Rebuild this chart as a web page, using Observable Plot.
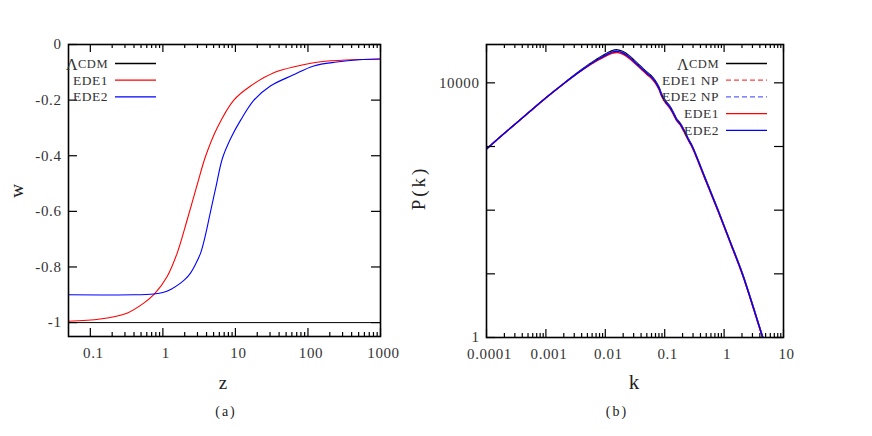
<!DOCTYPE html>
<html><head><meta charset="utf-8">
<script src="https://cdn.jsdelivr.net/npm/d3@7"></script>
<script src="https://cdn.jsdelivr.net/npm/@observablehq/plot@0.6"></script>
<style>
body{margin:0;background:#fff;}
#wrap{position:relative;width:872px;height:436px;display:flex;}
svg{display:block;}
g[aria-label$="tick label"] text{letter-spacing:0.6px;}
</style></head><body><div id="wrap"></div>
<script>
// ---------- Panel (a): equation of state w(z) ----------
const zLCDM = [0.05, 1000];
const wLCDM = [-1, -1];
const zEDE1 = [0.05, 0.137, 0.32, 0.545, 0.766, 1.146, 1.57, 2.16, 3.0, 3.9, 5.6, 9.5, 16, 35, 70, 150, 400, 1000];
const wEDE1 = [-0.995, -0.987, -0.966, -0.93, -0.897, -0.834, -0.751, -0.631, -0.5, -0.4, -0.3, -0.2, -0.15, -0.1, -0.078, -0.062, -0.055, -0.052];
const zEDE2 = [0.05, 0.4, 0.75, 1.0, 1.3, 1.75, 2.05, 2.4, 2.82, 3.31, 3.88, 4.46, 5.41, 6.61, 8.59, 11.8, 18, 30, 62, 120, 250, 500, 1000];
const wEDE2 = [-0.9, -0.9, -0.897, -0.892, -0.88, -0.858, -0.843, -0.822, -0.79, -0.75, -0.683, -0.61, -0.51, -0.41, -0.338, -0.272, -0.2, -0.15, -0.11, -0.077, -0.063, -0.055, -0.052];
const zMajor = [0.1, 1, 10, 100, 1000];
const wMajor = [-1, -0.8, -0.6, -0.4, -0.2, 0];

// ---------- Panel (b): power spectrum P(k) ----------
const kVals = [0.0001, 0.0002, 0.0005, 0.001, 0.002, 0.004, 0.007, 0.01, 0.013, 0.016, 0.02, 0.025, 0.031, 0.0395, 0.05, 0.0583, 0.0676, 0.0794, 0.0912, 0.107, 0.12, 0.138, 0.158, 0.182, 0.209, 0.251, 0.294, 0.484, 0.796, 1.28, 2.05, 4.52, 5.0];
const pLCDM  = [916, 1610, 3350, 5820, 9790, 16140, 23170, 28310, 31990, 33040, 30900, 26920, 22390, 18200, 14790, 13180, 11220, 8710, 6310, 5010, 4420, 3550, 2750, 2340, 1860, 1320, 1000, 316, 100, 31.6, 10, 1.0, 0.76];
const pEDE1NP = [916, 1610, 3347, 5805, 9720, 15700, 22000, 26400, 29500, 30400, 28400, 24900, 20800, 16900, 13750, 12250, 10450, 8120, 5900, 4690, 4140, 3330, 2590, 2200, 1760, 1250, 950, 301, 95.5, 30.2, 9.55, 0.955, 0.73];
const pEDE2NP = [916, 1610, 3349, 5815, 9770, 15990, 22750, 27500, 30950, 31950, 29900, 26100, 21750, 17700, 14400, 12850, 10950, 8500, 6180, 4910, 4330, 3480, 2700, 2300, 1830, 1300, 985, 312, 98.8, 31.2, 9.85, 0.985, 0.75];
const pEDE1  = [916, 1610, 3345, 5800, 9700, 15600, 21800, 26100, 29100, 29900, 27900, 24400, 20400, 16600, 13500, 12050, 10300, 8000, 5820, 4630, 4090, 3290, 2560, 2180, 1740, 1240, 940, 298, 94.5, 29.9, 9.45, 0.945, 0.72];
const pEDE2  = [916, 1610, 3348, 5810, 9740, 15850, 22400, 27000, 30300, 31200, 29200, 25500, 21300, 17300, 14100, 12560, 10720, 8330, 6050, 4810, 4240, 3410, 2650, 2260, 1800, 1280, 970, 307, 97.2, 30.7, 9.7, 0.97, 0.74];
const kMajor = [0.0001, 0.001, 0.01, 0.1, 1, 10];
const pMajor = [1, 10, 100, 1000, 10000];
const pLabels = [1, 10000];

// typewriter-like look: thin serif with mono-like spacing
const FONT = "'Liberation Serif', 'DejaVu Serif', serif";
const TICKFS = 15;
const toRows = (xs, ys) => xs.map((x, i) => ({x, y: ys[i]}));
const minorsOf = (majors) => majors.slice(0, -1).flatMap(d => [2,3,4,5,6,7,8,9].map(m => d * m));

function ticksMarks(fw, fh, xMaj, xMin, yMaj) {
  const s = {stroke: "black", strokeWidth: 1.2};
  return [
    Plot.tickX(xMaj, {x: d => d, insetTop: fh - 8, ...s}),
    Plot.tickX(xMaj, {x: d => d, insetBottom: fh - 8, ...s}),
    Plot.tickX(xMin, {x: d => d, insetTop: fh - 4, ...s}),
    Plot.tickX(xMin, {x: d => d, insetBottom: fh - 4, ...s}),
    Plot.tickY(yMaj, {y: d => d, insetRight: fw - 9, ...s}),
    Plot.tickY(yMaj, {y: d => d, insetLeft: fw - 9, ...s})
  ];
}

function addText(svg, x, y, txt, size, rotate, ls) {
  return d3.select(svg).append("text")
    .attr("transform", `translate(${x},${y})` + (rotate ? " rotate(-90)" : ""))
    .attr("text-anchor", "middle").attr("dominant-baseline", "central")
    .attr("font-family", FONT).attr("letter-spacing", ls || "0px").attr("font-size", size).attr("fill", "#222")
    .text(txt);
}

function addLegend(svg, items, xEnd, x1, x2, y0, dy) {
  const g = d3.select(svg).append("g").attr("font-family", FONT).attr("letter-spacing", "0.5px").attr("font-size", 13.5);
  items.forEach((it, i) => {
    const y = y0 + i * dy;
    const t = g.append("text").attr("x", xEnd).attr("y", y).attr("text-anchor", "end")
      .attr("dominant-baseline", "central").attr("fill", "#333");
    if (it.label.startsWith("Λ")) {
      t.append("tspan").attr("font-size", 16).text("Λ");
      t.append("tspan").attr("font-size", 12.5).text(it.label.slice(1));
    } else t.text(it.label);
    g.append("line").attr("x1", x1).attr("x2", x2).attr("y1", y).attr("y2", y)
      .attr("stroke", it.color).attr("stroke-width", 1.3)
      .attr("stroke-dasharray", it.dash || null);
  });
}

const wrap = document.getElementById("wrap");
const baseStyle = {fontFamily: FONT, fontSize: TICKFS + "px", background: "white", color: "black"};

// ----- Left panel -----
const W1 = 400, H = 436, mL1 = 68, mR1 = 20, mT = 44, mB1 = 100;
const fw1 = W1 - mL1 - mR1, fh1 = H - mT - mB1;
const left = Plot.plot({
  width: W1, height: H, marginLeft: mL1, marginRight: mR1, marginTop: mT, marginBottom: mB1,
  style: baseStyle,
  x: {type: "log", domain: [0.05, 1000], label: null},
  y: {domain: [-1.05, 0], label: null},
  marks: [
    Plot.line(toRows(zLCDM, wLCDM), {x: "x", y: "y", stroke: "black", strokeWidth: 1}),
    Plot.line(toRows(zEDE1, wEDE1), {x: "x", y: "y", stroke: "#ff0000", strokeWidth: 1.1, curve: "catmull-rom"}),
    Plot.line(toRows(zEDE2, wEDE2), {x: "x", y: "y", stroke: "#0000ff", strokeWidth: 1.1, curve: "catmull-rom"}),
    ...ticksMarks(fw1, fh1, zMajor, minorsOf(zMajor), wMajor),
    Plot.frame({stroke: "black", strokeWidth: 1.6}),
    Plot.axisX({ticks: zMajor, tickSize: 0, tickPadding: 11, dx: 3, fontSize: TICKFS, fill: "#333", tickFormat: d => String(d), label: null}),
    Plot.axisY({ticks: wMajor, tickSize: 0, tickPadding: 7, fontSize: TICKFS, fill: "#333", tickFormat: d => String(d), label: null})
  ]
});
addText(left, 16, 191, "w", 19, true);
addText(left, 223, 382, "z", 19, false);
addText(left, 226, 411, "(a)", 14, false, "2px");
addLegend(left, [
  {label: "ΛCDM", color: "black"},
  {label: "EDE1", color: "#ff0000"},
  {label: "EDE2", color: "#0000ff"}
], 108, 115, 156, 63.5, 16.7);
wrap.appendChild(left);

// ----- Right panel -----
const W2 = 472, mL2 = 86, mR2 = 89, mB2 = 99;
const fw2 = W2 - mL2 - mR2, fh2 = H - mT - mB2;
const series = [
  {p: pLCDM, color: "black", dash: null},
  {p: pEDE1NP, color: "#ff4040", dash: "5,3"},
  {p: pEDE2NP, color: "#6060ff", dash: "5,3"},
  {p: pEDE1, color: "#ff0000", dash: null},
  {p: pEDE2, color: "#0000ff", dash: null}
];
const right = Plot.plot({
  width: W2, height: H, marginLeft: mL2, marginRight: mR2, marginTop: mT, marginBottom: mB2,
  style: baseStyle,
  x: {type: "log", domain: [0.0001, 10], label: null},
  y: {type: "log", domain: [1, 40000], label: null},
  marks: [
    ...series.map(s => Plot.line(toRows(kVals, s.p), {x: "x", y: "y", stroke: s.color, strokeWidth: 1.3, strokeDasharray: s.dash, curve: "catmull-rom", clip: true})),
    ...ticksMarks(fw2, fh2, kMajor, minorsOf(kMajor), pMajor),
    Plot.frame({stroke: "black", strokeWidth: 1.6}),
    Plot.axisX({ticks: kMajor, tickSize: 0, tickPadding: 11, dx: 3, fontSize: TICKFS, fill: "#333", tickFormat: d => String(d), label: null}),
    Plot.axisY({ticks: pLabels, tickSize: 0, tickPadding: 7, fontSize: TICKFS, fill: "#333", tickFormat: d => String(d), label: null})
  ]
});
addText(right, 18, 188, "P(k)", 19, true, "3px");
addText(right, 234, 382, "k", 21, false);
addText(right, 217, 411, "(b)", 14, false, "2px");
addLegend(right, [
  {label: "ΛCDM", color: "black"},
  {label: "EDE1 NP", color: "#ff4040", dash: "5,3"},
  {label: "EDE2 NP", color: "#6060ff", dash: "5,3"},
  {label: "EDE1", color: "#ff0000"},
  {label: "EDE2", color: "#0000ff"}
], 319, 326, 367, 63.5, 16.7);
wrap.appendChild(right);
</script></body></html>
